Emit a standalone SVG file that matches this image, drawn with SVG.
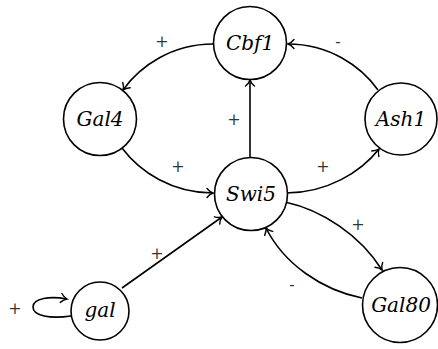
<svg xmlns="http://www.w3.org/2000/svg" width="438" height="349" viewBox="0 0 438 349">
<defs>
<style>
.node circle{fill:#fff;stroke:#000;stroke-width:1.6}
.node text{font-family:"DejaVu Serif",serif;font-style:italic;font-size:20px;text-anchor:middle;fill:#000}
.edge{fill:none;stroke:#000;stroke-width:1.6;marker-end:url(#arr)}
.lbl{font-family:"DejaVu Serif",serif;font-size:16px;text-anchor:middle;fill:#333}
</style>
<marker id="arr" viewBox="-10 -6 12 12" refX="0" refY="0" markerWidth="12" markerHeight="12" orient="auto" markerUnits="userSpaceOnUse">
<path d="M-6,-4.5 C-4,-2 -1.5,-0.5 0,0 C-1.5,0.5 -4,2 -6,4.5" fill="none" stroke="#000" stroke-width="1.4" stroke-linecap="round"/>
</marker>
</defs>
<rect width="438" height="349" fill="#fff"/>
<g id="connectors">
<path class="edge" d="M213,44 C172,44 140,66 123,90"/>
<path class="edge" d="M378,90 C361,66 329,44 288,44"/>
<path class="edge" d="M250,158 L250,80"/>
<path class="edge" d="M122,148 C140,172 172,193 213,193"/>
<path class="edge" d="M286,193 C327,193 361,172 379,149"/>
<path class="edge" d="M122,288 L222,217"/>
<path class="edge" d="M285,202 C322,210 360,235 382,270"/>
<path class="edge" d="M362,298 C322,290 284,264 266,228"/>
<path class="edge" d="M71,316 C50,319 33,316 33,307 C33,298 50,296 67,299"/>
<text class="lbl" x="162" y="47">+</text>
<text class="lbl" x="338" y="47">-</text>
<text class="lbl" x="234" y="125">+</text>
<text class="lbl" x="178" y="172">+</text>
<text class="lbl" x="323" y="172">+</text>
<text class="lbl" x="157" y="259">+</text>
<text class="lbl" x="358" y="230">+</text>
<text class="lbl" x="292" y="290">-</text>
<text class="lbl" x="15" y="314">+</text>
</g>
<g id="Cbf1" class="node"><circle cx="250" cy="43" r="36.5"/><text x="250" y="50">Cbf1</text></g>
<g id="Gal4" class="node"><circle cx="100" cy="119" r="36.5"/><text x="100" y="126">Gal4</text></g>
<g id="Ash1" class="node"><circle cx="401" cy="119" r="36"/><text x="401" y="126">Ash1</text></g>
<g id="Swi5" class="node"><circle cx="251" cy="194" r="36.5"/><text x="251" y="201">Swi5</text></g>
<g id="gal" class="node"><circle cx="100" cy="311" r="29"/><text x="100" y="317">gal</text></g>
<g id="Gal80" class="node"><circle cx="400" cy="305" r="37.5"/><text x="401" y="312">Gal80</text></g>
</svg>
